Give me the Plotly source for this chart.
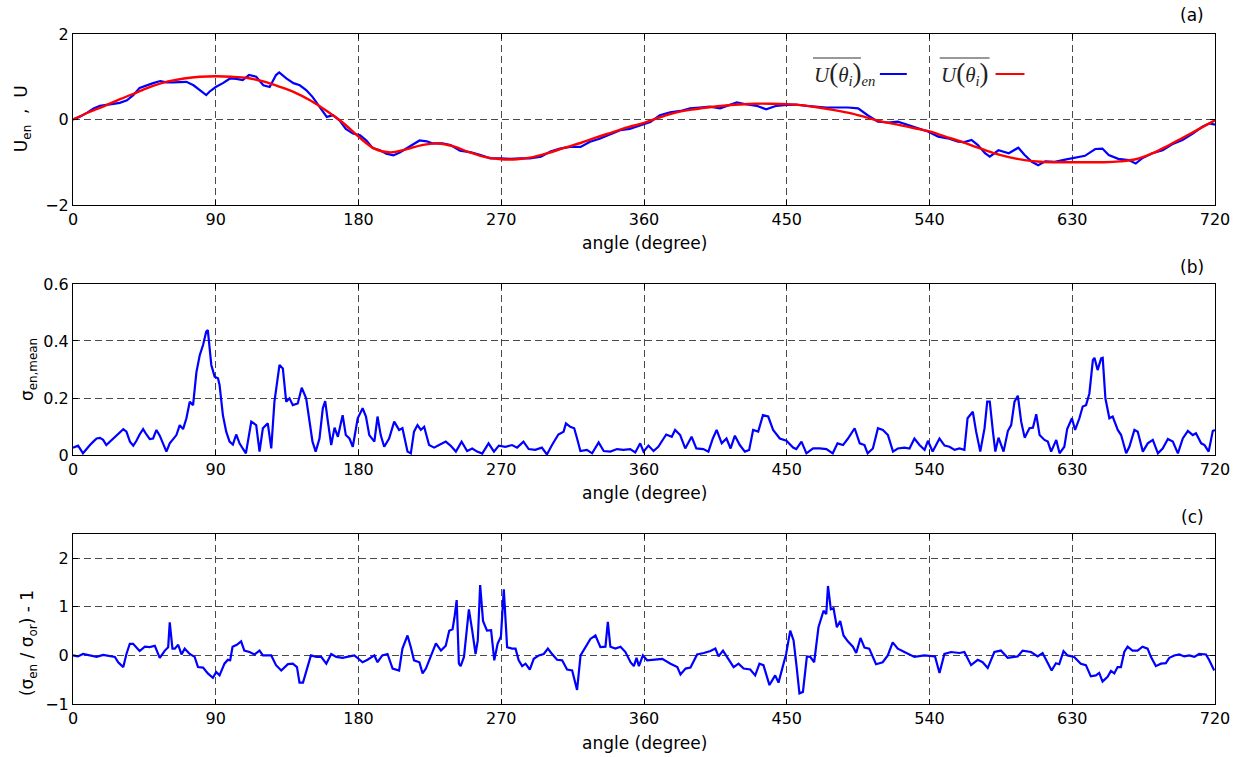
import plotly.graph_objects as go

# ---------------- data ----------------
# (a) ensemble-averaged velocity U_en (blue)
ANG_U_EN = [0, 4, 9, 13, 17, 21, 25, 29.5, 34, 38, 42, 46, 50.5, 55, 59, 63, 67, 71.5, 76, 80, 84, 86,
            90, 94.5, 99, 103, 107, 111, 115.5, 120, 124, 128, 130, 134.5, 139, 143, 147, 151, 155.5,
            160, 164, 168, 172, 176.5, 181, 185, 189, 193.5, 197.5, 202, 206, 210, 214, 218.5, 223,
            227, 233, 238, 244, 251, 257, 263, 269.5, 276, 282, 288, 295, 301, 307, 313.5, 320, 326,
            332, 339, 345, 351, 357.5, 364, 370, 376.5, 383, 389, 395, 401.5, 408, 414, 418.5, 425,
            431, 437, 443.5, 450, 456, 462.5, 469, 475, 481, 488.5, 495, 501, 507.5, 514, 520, 526.5,
            533, 539, 545.5, 551.5, 558, 562, 566.5, 570.5, 575, 578, 583.5, 590, 596, 600, 604.5,
            608.5, 613, 619, 625.5, 632, 638, 644.5, 649, 653, 659, 665.5, 670, 674, 680.5, 687, 693,
            699.5, 706, 712, 716.5, 720]
U_EN = [0, 0.06, 0.16, 0.26, 0.32, 0.34, 0.35, 0.39, 0.45, 0.57, 0.74, 0.8, 0.85, 0.9, 0.87, 0.87, 0.87,
        0.88, 0.8, 0.69, 0.57, 0.65, 0.76, 0.85, 0.96, 0.95, 0.92, 1.04, 1.0, 0.8, 0.76, 1.04, 1.1,
        0.96, 0.85, 0.8, 0.69, 0.53, 0.3, 0.06, 0.1, -0.02, -0.22, -0.33, -0.37, -0.49, -0.67, -0.72,
        -0.8, -0.84, -0.77, -0.68, -0.6, -0.49, -0.51, -0.56, -0.56, -0.6, -0.73, -0.77, -0.83, -0.91,
        -0.91, -0.92, -0.91, -0.91, -0.87, -0.75, -0.68, -0.64, -0.64, -0.52, -0.45, -0.35, -0.25,
        -0.22, -0.14, -0.06, 0.1, 0.17, 0.2, 0.26, 0.28, 0.3, 0.26, 0.34, 0.4, 0.35, 0.32, 0.24, 0.32,
        0.34, 0.35, 0.32, 0.3, 0.28, 0.28, 0.28, 0.26, 0.1, -0.05, -0.07, -0.05, -0.13, -0.2, -0.28,
        -0.4, -0.44, -0.52, -0.53, -0.48, -0.6, -0.79, -0.87, -0.72, -0.79, -0.66, -0.83, -0.99,
        -1.07, -0.98, -0.99, -0.94, -0.89, -0.85, -0.69, -0.68, -0.83, -0.92, -0.95, -1.03, -0.91,
        -0.79, -0.72, -0.58, -0.48, -0.33, -0.17, -0.09, -0.12]

# (a) reference velocity U (red)
ANG_U = list(range(0, 721, 10))
U_REF = [0, 0.17, 0.32, 0.48, 0.63, 0.78, 0.89, 0.96, 1.0, 1.01, 1.0, 0.97, 0.89, 0.77, 0.63, 0.44,
         0.2, -0.07, -0.4, -0.68, -0.77, -0.7, -0.6, -0.56, -0.63, -0.77, -0.88, -0.93, -0.93, -0.88,
         -0.78, -0.66, -0.55, -0.42, -0.3, -0.18, -0.08, 0.05, 0.16, 0.23, 0.28, 0.32, 0.35, 0.37,
         0.37, 0.36, 0.33, 0.28, 0.22, 0.15, 0.05, -0.05, -0.12, -0.2, -0.28, -0.4, -0.52, -0.65,
         -0.78, -0.88, -0.95, -0.99, -1.0, -1.0, -1.0, -1.0, -0.98, -0.93, -0.8, -0.62, -0.42, -0.22,
         -0.02]

# (b) sigma_en,mean
ANG_SIG = [0, 3.2, 6.3, 8.6, 10.7, 12.8, 14.9, 17, 19, 21, 23.3, 25.4, 27.5, 29.6, 31.7, 33.7, 35.9, 38,
           40, 42, 44.2, 46.3, 48.4, 50.5, 52.6, 54.7, 56.8, 58.9, 61, 63, 65.2, 67.3, 69.4, 71.5,
           73.6, 75.7, 77.8, 79.9, 82, 84, 85, 87.2, 89.3, 91.4, 92.4, 94.5, 96.6, 98.7, 100.8, 102.9,
           105, 107, 109, 112.4, 115.5, 117.6, 119.7, 122.8, 125, 127, 130.2, 132.3, 134.4, 136.5,
           138.6, 141.7, 144.2, 147, 149, 151, 153, 155.4, 157.5, 159, 160.7, 162.8, 164.9, 167, 170,
           172, 174.3, 176.4, 179.5, 182.6, 184.7, 186.8, 190, 192, 194, 196.2, 199.3, 202.5, 205.6,
           207.7, 210.9, 213, 215, 217.2, 219.3, 221.4, 224.5, 227.7, 230.8, 235, 238, 241.4, 245,
           248.5, 251.7, 254.8, 258, 262, 265.4, 268.5, 272.6, 276.8, 280, 284, 287.3, 291.4, 295.6,
           298.8, 302, 306, 309.3, 310.8, 313.5, 316, 317.8, 319.9, 324, 327.3, 331.4, 334.6, 338.8,
           343, 347, 351.3, 354.5, 357.6, 359.7, 362.8, 366, 369, 374, 377.5, 379.6, 382.8, 386, 390,
           393, 397.4, 400.6, 403.4, 405.8, 409, 412, 414.6, 417.3, 420.4, 423.6, 426.3, 428.8, 432,
           435, 438.3, 441.4, 445.6, 449.8, 454, 456, 459.3, 462.4, 466.6, 470.8, 475, 479, 482,
           485.5, 488.6, 492.8, 496, 499, 501, 504.3, 507.5, 510.6, 513.8, 517, 520, 524.2, 527.4,
           530.5, 533.7, 536.9, 539, 542, 546.3, 549.5, 552.6, 555.8, 558.9, 562, 564, 567.3, 569.4,
           572, 574.7, 576.4, 578, 580, 581.5, 583.5, 586.7, 589.4, 591.5, 593.6, 595.7, 597.8, 600,
           603, 605.2, 607.3, 609.4, 612.5, 614.6, 616.7, 619.9, 622, 625, 626.8, 629.8, 631.8,
           634.5, 636.6, 638.7, 640.8, 643, 644, 646, 648.2, 649.2, 650.9, 653.4, 655.5, 658.7, 660.8,
           664, 666, 669.2, 671.3, 674.5, 677.6, 680.8, 684, 687, 690.3, 693.4, 696.6, 699.7, 702.9,
           706, 708, 711.3, 713.4, 716, 718.6, 720]
SIG_EN_MEAN = [0.026, 0.033, 0.006, 0.023, 0.035, 0.047, 0.058, 0.06, 0.053, 0.035, 0.047, 0.06, 0.072,
               0.082, 0.091, 0.082, 0.047, 0.033, 0.05, 0.072, 0.091, 0.072, 0.056, 0.058, 0.088,
               0.068, 0.041, 0.012, 0.041, 0.053, 0.07, 0.105, 0.091, 0.129, 0.187, 0.175, 0.29,
               0.35, 0.386, 0.433, 0.438, 0.316, 0.275, 0.269, 0.246, 0.14, 0.082, 0.047, 0.037,
               0.072, 0.041, 0.023, 0.006, 0.117, 0.105, 0.012, 0.094, 0.111, 0.023, 0.187, 0.316,
               0.304, 0.187, 0.199, 0.175, 0.181, 0.236, 0.199, 0.117, 0.047, 0.012, 0.058, 0.164,
               0.189, 0.117, 0.035, 0.096, 0.064, 0.14, 0.07, 0.058, 0.029, 0.129, 0.164, 0.135,
               0.07, 0.047, 0.135, 0.07, 0.029, 0.058, 0.117, 0.088, 0.094, 0.012, 0.006, 0.082,
               0.105, 0.088, 0.099, 0.035, 0.026, 0.035, 0.047, 0.033, 0.012, 0.047, 0.014, 0.023,
               0.012, 0.005, 0.041, 0.012, 0.033, 0.029, 0.035, 0.026, 0.047, 0.021, 0.018, 0.026,
               0.002, 0.035, 0.072, 0.082, 0.111, 0.099, 0.094, 0.058, 0.014, 0.018, 0.006, 0.044,
               0.014, 0.012, 0.021, 0.018, 0.021, 0.009, 0.041, 0.012, 0.033, 0.014, 0.029, 0.072,
               0.064, 0.088, 0.07, 0.023, 0.064, 0.023, 0.021, 0.012, 0.058, 0.088, 0.041, 0.058,
               0.023, 0.068, 0.035, 0.012, 0.018, 0.088, 0.082, 0.14, 0.135, 0.088, 0.058, 0.05,
               0.026, 0.021, 0.047, 0.006, 0.023, 0.023, 0.021, 0.006, 0.041, 0.035, 0.058, 0.094,
               0.041, 0.035, 0.006, 0.023, 0.094, 0.088, 0.07, 0.012, 0.023, 0.026, 0.023, 0.058,
               0.035, 0.018, 0.05, 0.012, 0.058, 0.033, 0.029, 0.018, 0.023, 0.018, 0.129, 0.152,
               0.082, 0.012, 0.094, 0.187, 0.187, 0.082, 0.012, 0.061, 0.012, 0.084, 0.105, 0.187,
               0.208, 0.117, 0.061, 0.094, 0.096, 0.143, 0.07, 0.053, 0.047, 0.012, 0.053, 0.006,
               0.029, 0.091, 0.129, 0.088, 0.129, 0.17, 0.175, 0.216, 0.333, 0.341, 0.298, 0.339,
               0.341, 0.199, 0.129, 0.135, 0.088, 0.07, 0.006, 0.029, 0.088, 0.082, 0.012, 0.041,
               0.053, 0.006, 0.023, 0.056, 0.047, 0.006, 0.058, 0.085, 0.07, 0.076, 0.041, 0.035,
               0.012, 0.084, 0.088]

# (c) (sigma_en / sigma_or) - 1
ANG_RATIO = [0, 3.1, 6.3, 10.7, 14.9, 19, 23.3, 26.4, 28.5, 31.7, 33.7, 35.8, 37.9, 40, 42, 45.3, 48.4,
             51.6, 54.7, 57.9, 60, 61, 62.7, 64.2, 66.3, 68.4, 70.4, 73.6, 76.7, 78.8, 82, 85, 88.2,
             90.3, 92.4, 95.5, 97.6, 99.1, 100.6, 103.3, 106, 108, 111.3, 114.4, 117.6, 119.7, 125,
             128, 131.3, 135.5, 138.6, 141.2, 142.8, 145, 147, 150, 153.4, 156.5, 159.7, 162.8, 166,
             170, 174.3, 177.4, 182.6, 185.7, 190, 192, 195, 198.3, 201.5, 205.6, 207.7, 210.9, 213,
             215, 218.4, 220.4, 222.5, 225.6, 228.8, 232, 235, 237.2, 239.3, 240.5, 241.9, 243.3,
             244.4, 246.5, 248, 249.6, 251.7, 253.8, 255.2, 256.7, 258.5, 261, 263.6, 265.6, 267.7,
             269.8, 271.6, 273.7, 276.8, 279, 281, 283.2, 285.3, 288, 290.5, 293.7, 296.8, 299.4,
             301.5, 305.2, 308.4, 311.5, 314.7, 317.8, 320, 323, 326.2, 329.4, 332.5, 335.7, 337.2,
             338.8, 342, 345.2, 348.3, 351.5, 353.6, 355.3, 356.8, 359.3, 362, 365.2, 371.5, 376.7,
             381, 383, 386.2, 389.3, 393.5, 397.7, 401.9, 405, 407, 409.8, 412.3, 416.5, 419.6, 422.8,
             427, 430.1, 432.8, 435.3, 439.1, 442.7, 444.8, 446.9, 449.6, 452.2, 454.3, 456, 458,
             460.2, 462.7, 464.8, 467.3, 470, 473.2, 474.9, 476, 477.8, 479.5, 481.6, 483.7, 485.8,
             488.5, 491.7, 493.8, 496.5, 499, 502, 506.3, 510.5, 513.7, 516.8, 520, 524.2, 530.5,
             536.8, 541, 543.5, 546.3, 549.4, 553.6, 558.9, 562, 566.2, 570.4, 573.5, 576.7, 580.9,
             585, 589.3, 595.6, 598.7, 604, 608.2, 611.3, 614.5, 617, 619.7, 621.8, 624.5, 627, 631.2,
             635.4, 638.6, 641.7, 644.9, 647, 649.1, 652.3, 654.4, 656.5, 658.6, 660.7, 662.8, 664.9,
             668, 671.2, 674.3, 677.5, 679.6, 682.7, 685.9, 689, 691.2, 694.3, 697.5, 700.6, 703.8,
             707, 710, 714.3, 716.4, 719.5]
SIG_RATIO = [0, -0.02, 0.03, 0, -0.03, 0.01, -0.01, -0.03, -0.14, -0.24, 0.03, 0.24, 0.24, 0.17, 0.09,
             0.18, 0.17, 0.2, -0.05, 0.1, 0.17, 0.68, 0.14, 0.14, 0.22, 0.02, 0.14, 0.03, -0.03,
             -0.24, -0.25, -0.37, -0.46, -0.34, -0.41, -0.17, -0.09, -0.1, 0.18, 0.22, 0.29, 0.1,
             0.07, 0.02, 0.1, 0, 0, -0.2, -0.31, -0.18, -0.17, -0.24, -0.56, -0.56, -0.34, 0, -0.03,
             -0.03, -0.17, 0.03, -0.03, -0.05, -0.02, 0, -0.14, -0.09, 0, -0.14, 0, 0.03, -0.27,
             -0.31, 0.14, 0.41, 0.17, -0.1, -0.14, -0.37, -0.27, -0.02, 0.25, 0.1, 0.2, 0.51, 0.54,
             0.78, 1.14, -0.17, -0.22, -0.03, 0.51, 0.95, 0.51, 0.03, 0.31, 1.45, 0.71, 0.51, 0.52,
             -0.1, 0.24, 0.39, 1.36, 0.17, 0.14, 0.14, -0.1, -0.22, -0.17, -0.29, -0.07, 0, 0.03,
             0.14, 0.05, -0.09, -0.1, -0.29, -0.31, -0.71, 0, 0.17, 0.34, 0.41, 0.17, 0.18, 0.69,
             0.18, 0.14, 0.18, 0.07, -0.14, -0.22, -0.05, -0.22, 0, -0.1, -0.09, -0.07, -0.17, -0.24,
             -0.39, -0.27, -0.25, 0.02, 0.05, 0.09, 0.14, -0.02, 0.1, -0.03, -0.24, -0.17, -0.27,
             -0.29, -0.41, -0.17, -0.2, -0.61, -0.41, -0.56, -0.31, 0.03, 0.51, 0.31, -0.17, -0.78,
             -0.75, -0.02, -0.03, -0.14, 0.58, 0.92, 0.85, 1.43, 0.95, 0.97, 0.58, 0.71, 0.41, 0.29,
             0.18, 0.05, 0.36, 0.16, 0.14, -0.18, -0.14, 0, 0.27, 0.14, 0.07, -0.03, 0, -0.02, -0.02,
             -0.36, 0.03, 0.07, 0.05, 0.07, -0.2, -0.09, -0.14, -0.26, 0.07, 0.1, -0.05, -0.02, 0.1,
             0.07, -0.02, 0.05, -0.16, -0.31, -0.16, -0.18, 0.09, 0, -0.03, -0.17, -0.2, -0.43,
             -0.41, -0.36, -0.54, -0.44, -0.32, -0.37, -0.24, -0.24, 0.07, 0.18, 0.1, 0.1, 0.18,
             0.14, -0.03, -0.22, -0.17, -0.16, -0.05, 0, 0.02, -0.02, 0, -0.03, 0.03, 0.02, -0.1,
             -0.31]

X_TICKS = [0, 90, 180, 270, 360, 450, 540, 630, 720]
Y_TICKS_A = [-2, 0, 2]
Y_TICKS_B = [0, 0.2, 0.4, 0.6]
Y_TICKS_B_TEXT = ["0", "0.2", "0.4", "0.6"]
Y_TICKS_C = [-1, 0, 1, 2]

# ---------------- figure ----------------
BLUE = "#0000ff"
RED = "#ff0000"
SANS = "DejaVu Sans, Arial, sans-serif"
SERIF = "Liberation Serif, Times New Roman, serif"

fig = go.Figure()
fig.add_trace(go.Scatter(x=ANG_U_EN, y=U_EN, mode="lines", xaxis="x", yaxis="y",
                         line=dict(color=BLUE, width=2.2), showlegend=False))
fig.add_trace(go.Scatter(x=ANG_U, y=U_REF, mode="lines", xaxis="x", yaxis="y",
                         line=dict(color=RED, width=2.4, shape="spline"), showlegend=False))
fig.add_trace(go.Scatter(x=ANG_SIG, y=SIG_EN_MEAN, mode="lines", xaxis="x2", yaxis="y2",
                         line=dict(color=BLUE, width=2.2), showlegend=False))
fig.add_trace(go.Scatter(x=ANG_RATIO, y=SIG_RATIO, mode="lines", xaxis="x3", yaxis="y3",
                         line=dict(color=BLUE, width=2.2), showlegend=False))

common = dict(showline=True, linecolor="black", linewidth=1, mirror="ticks", ticks="inside",
              ticklen=5, tickcolor="black", showgrid=True, gridcolor="#4a4a4a", gridwidth=1,
              griddash="7px,4px", zeroline=False,
              tickfont=dict(family=SANS, size=16, color="black"))

def xax(anchor):
    d = dict(common)
    d.update(range=[0, 720], tickvals=X_TICKS, anchor=anchor, domain=[0, 1])
    return d

dom_a = [0.7448, 1.0]
dom_b = [0.3716, 0.6269]
dom_c = [0.0, 0.2537]

ya = dict(common); ya.update(range=[-2, 2], tickvals=Y_TICKS_A, domain=dom_a, anchor="x")
yb = dict(common); yb.update(range=[0, 0.6], tickvals=Y_TICKS_B, ticktext=Y_TICKS_B_TEXT,
                             domain=dom_b, anchor="x2")
yc = dict(common); yc.update(range=[-1, 2.5], tickvals=Y_TICKS_C, domain=dom_c, anchor="x3")

fig.update_layout(
    width=1242, height=757,
    margin=dict(l=73, r=24, t=34, b=53),
    paper_bgcolor="white", plot_bgcolor="white",
    xaxis=xax("y"), xaxis2=xax("y2"), xaxis3=xax("y3"),
    yaxis=ya, yaxis2=yb, yaxis3=yc,
    showlegend=False,
)

def px2x(px):
    return (px - 73) / 1145.0

def px2y(py):
    return (704 - py) / 670.0

annots = []
# x-axis titles
for py in (243, 493, 743):
    annots.append(dict(text="angle (degree)", x=0.5, y=px2y(py), xref="paper", yref="paper",
                       showarrow=False, xanchor="center", yanchor="middle",
                       font=dict(family=SANS, size=17, color="black")))
# y-axis titles
annots.append(dict(text="U<sub>en</sub>  ,  U", x=px2x(22), y=px2y(119), xref="paper", yref="paper",
                   showarrow=False, textangle=-90, xanchor="center", yanchor="middle",
                   font=dict(family=SANS, size=17, color="black")))
annots.append(dict(text="σ<sub>en,mean</sub>", x=px2x(28), y=px2y(370), xref="paper", yref="paper",
                   showarrow=False, textangle=-90, xanchor="center", yanchor="middle",
                   font=dict(family=SANS, size=17, color="black")))
annots.append(dict(text="(σ<sub>en</sub> / σ<sub>or</sub>) - 1", x=px2x(28), y=px2y(643),
                   xref="paper", yref="paper", showarrow=False, textangle=-90,
                   xanchor="center", yanchor="middle",
                   font=dict(family=SANS, size=17, color="black")))
# panel labels
for lab, py in (("(a)", 15), ("(b)", 267), ("(c)", 517)):
    annots.append(dict(text=lab, x=px2x(1195), y=px2y(py), xref="paper", yref="paper",
                       showarrow=False, xanchor="center", yanchor="middle",
                       font=dict(family=SANS, size=17, color="black")))
# legend texts
BIGP_L = '<span style="font-size:27px">(</span>'
BIGP_R = '<span style="font-size:27px">)</span>'
annots.append(dict(text="<i>U</i>" + BIGP_L + "<i>θ</i><sub><i>i</i></sub>" + BIGP_R + "<sub><i>en</i></sub>",
                   x=px2x(814), y=px2y(73), xref="paper", yref="paper", showarrow=False,
                   xanchor="left", yanchor="middle",
                   font=dict(family=SERIF, size=21, color="#222")))
annots.append(dict(text="<i>U</i>" + BIGP_L + "<i>θ</i><sub><i>i</i></sub>" + BIGP_R,
                   x=px2x(941), y=px2y(73), xref="paper", yref="paper", showarrow=False,
                   xanchor="left", yanchor="middle",
                   font=dict(family=SERIF, size=21, color="#222")))

shapes = [
    dict(type="line", xref="paper", yref="paper", x0=px2x(815), x1=px2x(863), y0=px2y(58), y1=px2y(58),
         line=dict(color="#333", width=1)),
    dict(type="line", xref="paper", yref="paper", x0=px2x(942), x1=px2x(992), y0=px2y(58), y1=px2y(58),
         line=dict(color="#333", width=1)),
    dict(type="line", xref="paper", yref="paper", x0=px2x(882), x1=px2x(909), y0=px2y(74), y1=px2y(74),
         line=dict(color=BLUE, width=2)),
    dict(type="line", xref="paper", yref="paper", x0=px2x(998), x1=px2x(1027), y0=px2y(74), y1=px2y(74),
         line=dict(color=RED, width=2)),
]

fig.update_layout(annotations=annots, shapes=shapes)
fig.write_html("out.html")
